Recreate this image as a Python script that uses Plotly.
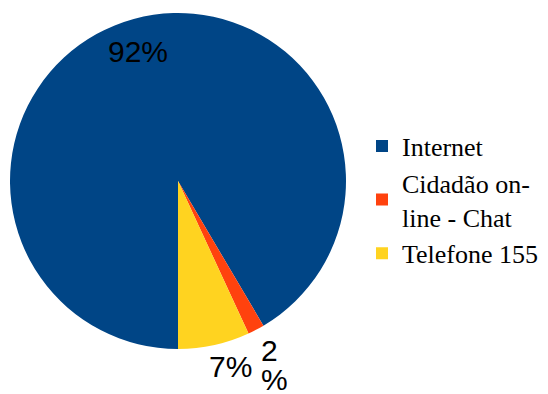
import math
import plotly.graph_objects as go

labels = ["Internet", "Cidadão on-<br>line - Chat", "Telefone 155"]
values = [91.6, 1.6, 6.9]
label_lines = [["92%"], ["2", "%"], ["7%"]]
label_xshift = [-5, 0, -8]
colors = ["#004586", "#ff420e", "#ffd320"]

W, H = 548, 394
cx, cy, r = 178, 181, 168
start_angle = 180  # degrees clockwise from 12 o'clock
label_font = dict(family="Liberation Sans", size=30, color="black")
line_h = 29
serif = "Liberation Serif, Tinos, Times New Roman, Times, serif"

fig = go.Figure(go.Pie(
    labels=labels,
    values=values,
    textinfo="none",
    sort=False,
    direction="clockwise",
    rotation=start_angle,
    marker=dict(colors=colors, line=dict(width=0)),
    domain=dict(x=[(cx - r) / W, (cx + r) / W], y=[(H - cy - r) / H, (H - cy + r) / H]),
    hoverinfo="label+percent",
))

total = sum(values)
acc = 0.0
annotations = []
for k, (v, lines) in enumerate(zip(values, label_lines)):
    mid = start_angle + (acc + v / 2) / total * 360
    acc += v
    th = math.radians(mid)
    if k == 0:
        rf, xa, ya = 0.80, "center", "middle"
    else:
        rf, xa, ya = 1.045, "left", "top"
    px = cx + rf * r * math.sin(th)
    py = cy - rf * r * math.cos(th)
    for i, t in enumerate(lines):
        yy = py + i * line_h
        annotations.append(dict(
            x=px / W, y=(H - yy) / H, xref="paper", yref="paper",
            text=t, showarrow=False, font=label_font,
            xanchor=xa, yanchor=ya, borderpad=0, height=26,
            xshift=label_xshift[k],
        ))

fig.update_layout(
    width=W, height=H,
    margin=dict(l=0, r=0, t=0, b=0),
    paper_bgcolor="white",
    plot_bgcolor="white",
    font=dict(family=serif, color="black"),
    showlegend=True,
    annotations=annotations,
    legend=dict(
        x=362 / W, y=(H - 200) / H, xanchor="left", yanchor="middle",
        font=dict(family=serif, size=26, color="black"),
        itemwidth=30,
        bgcolor="rgba(0,0,0,0)",
    ),
)

fig.write_html("out.html")
